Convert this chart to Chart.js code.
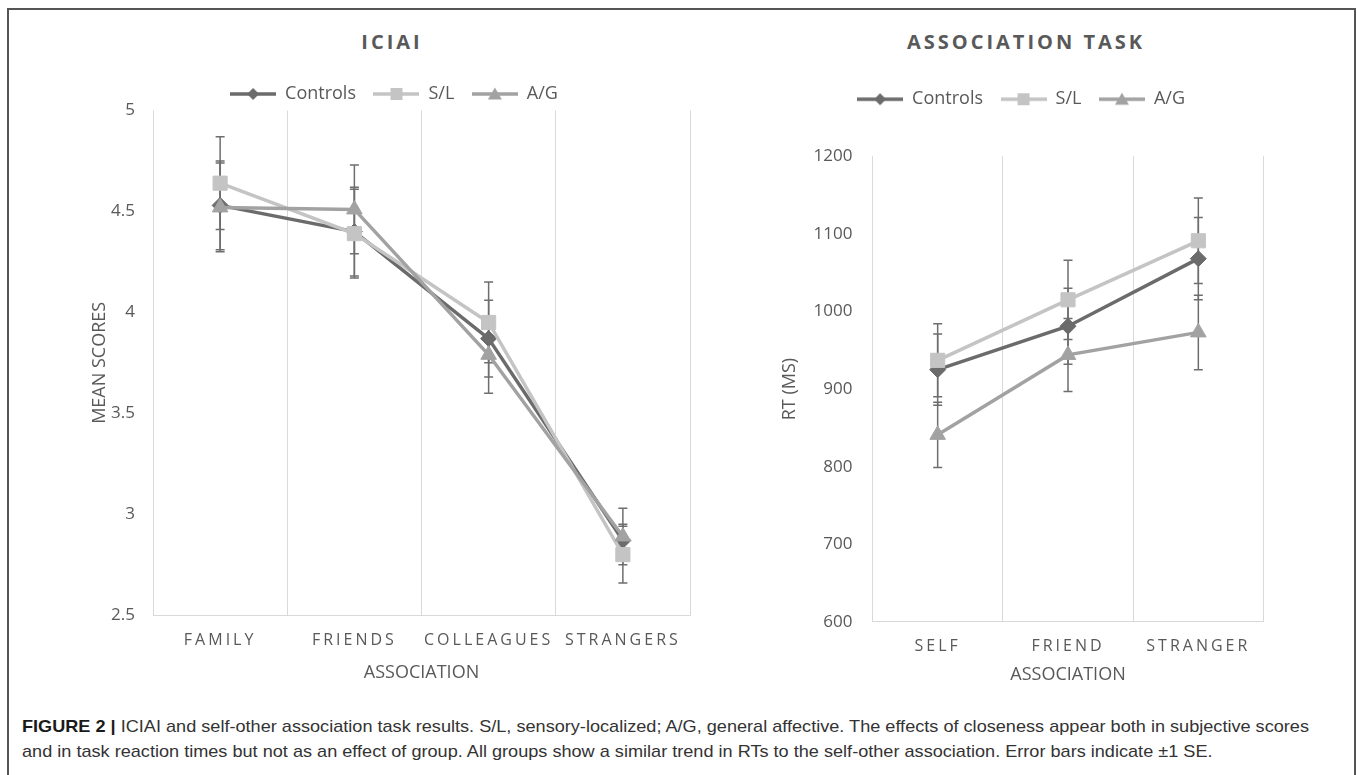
<!DOCTYPE html>
<html>
<head>
<meta charset="utf-8">
<script src="https://cdn.jsdelivr.net/npm/chart.js@4.4.1/dist/chart.umd.min.js"></script>
<style>
    body { margin: 0; background: #fff; width: 1357px; height: 775px; overflow: hidden; position: relative; }
    #frame { position: absolute; left: 7px; top: 8px; width: 1345px; height: 820px; border: 2px solid #555; }
    .chartTitle { position: absolute; top: 28px; width: 300px; text-align: center; font: bold 20px 'Open Sans', sans-serif; letter-spacing: 3px; color: #595959; white-space: nowrap; }
    canvas { position: absolute; }
    #caption { position: absolute; left: 22px; top: 714px; font-family: 'Liberation Sans Narrow', 'Liberation Sans', Arial, sans-serif; font-size: 17px; line-height: 25px; color: #333; white-space: nowrap; transform-origin: 0 0; }
    #caption b { color: #1a1a1a; }
</style>
</head>
<body>
<div id="frame"></div>
<div class="chartTitle" style="left:242px">ICIAI</div>
<div class="chartTitle" style="left:876px">ASSOCIATION TASK</div>
<canvas id="iciaiChart" width="720" height="640" style="left:20px;top:55px"></canvas>
<canvas id="taskChart" width="580" height="640" style="left:760px;top:55px"></canvas>
<div id="caption"><span id="capLine1"><b>FIGURE 2 |</b> ICIAI and self-other association task results. S/L, sensory-localized; A/G, general affective. The effects of closeness appear both in subjective scores</span><br><span>and in task reaction times but not as an effect of group. All groups show a similar trend in RTs to the self-other association. Error bars indicate ±1 SE.</span></div>

<script>
// ---- data : ICIAI ----
const groups = ['Controls', 'S/L', 'A/G'];
const associationLabels = ['FAMILY', 'FRIENDS', 'COLLEAGUES', 'STRANGERS'];
const controlsScores = [4.53, 4.40, 3.87, 2.87];
const slScores = [4.64, 4.39, 3.95, 2.80];
const agScores = [4.52, 4.51, 3.79, 2.89];
const controlsScoreSE = [0.22, 0.22, 0.19, 0.08];
const slScoreSE = [0.23, 0.22, 0.20, 0.14];
const agScoreSE = [0.22, 0.22, 0.19, 0.14];
const scoreTicks = [2.5, 3, 3.5, 4, 4.5, 5];
const scoreTickLabels = ['2.5', '3', '3.5', '4', '4.5', '5'];

// ---- data : association task (RT) ----
const taskLabels = ['SELF', 'FRIEND', 'STRANGER'];
const controlsRT = [925, 981, 1068];
const slRT = [937, 1015, 1091];
const agRT = [841, 944, 973];
const controlsRTSE = [46, 49, 53];
const slRTSE = [47, 51, 55];
const agRTSE = [42, 47, 48];
const rtTicks = [600, 700, 800, 900, 1000, 1100, 1200];
const rtTickLabels = ['600', '700', '800', '900', '1000', '1100', '1200'];

// ---- look ----
const seriesColors = ['#6b6b6b', '#c4c4c4', '#a2a2a2'];
const markerStyles = ['rectRot', 'rect', 'triangle'];
const markerRadius = [8, 10, 9];
const textColor = '#595959';

Chart.defaults.font.family = "'Open Sans', sans-serif";
Chart.defaults.color = textColor;
Chart.defaults.animation = false;

// category axis with spaced letters (Excel style)
class SpacedCategoryScale extends Chart.CategoryScale {
    drawLabels(area) {
        this.ctx.save();
        this.ctx.letterSpacing = '3px';
        super.drawLabels(area);
        this.ctx.restore();
    }
}
SpacedCategoryScale.id = 'spacedCategory';
SpacedCategoryScale.defaults = Chart.CategoryScale.defaults;
Chart.register(SpacedCategoryScale);

// legend icon: line with the marker in the middle
function legendIcon(color, style) {
    const c = document.createElement('canvas');
    c.width = 46; c.height = 16;
    const g = c.getContext('2d');
    g.strokeStyle = color; g.lineWidth = 3.5;
    g.beginPath(); g.moveTo(0, 8); g.lineTo(46, 8); g.stroke();
    g.fillStyle = color;
    g.beginPath();
    if (style === 'rectRot') { g.moveTo(23, 2); g.lineTo(29, 8); g.lineTo(23, 14); g.lineTo(17, 8); }
    else if (style === 'rect') { g.rect(17, 2, 12, 12); }
    else { g.moveTo(23, 1.5); g.lineTo(30, 13.5); g.lineTo(16, 13.5); }
    g.closePath(); g.fill();
    return c;
}
const legendIcons = seriesColors.map((c, i) => legendIcon(c, markerStyles[i]));

// error bars drawn under the series
const errorBars = {
    id: 'errorBars',
    beforeDatasetsDraw(chart, args, opts) {
        const ctx = chart.ctx;
        const y = chart.scales.y;
        ctx.save();
        ctx.strokeStyle = opts.color;
        ctx.lineWidth = opts.width;
        chart.data.datasets.forEach((ds, i) => {
            chart.getDatasetMeta(i).data.forEach((pt, j) => {
                const hi = y.getPixelForValue(ds.data[j] + ds.errors[j]);
                const lo = y.getPixelForValue(ds.data[j] - ds.errors[j]);
                ctx.beginPath();
                ctx.moveTo(pt.x, hi); ctx.lineTo(pt.x, lo);
                ctx.moveTo(pt.x - opts.cap, hi); ctx.lineTo(pt.x + opts.cap, hi);
                ctx.moveTo(pt.x - opts.cap, lo); ctx.lineTo(pt.x + opts.cap, lo);
                ctx.stroke();
            });
        });
        ctx.restore();
    }
};

// nudges the legend to where Excel put it
const legendShift = {
    id: 'legendShift',
    afterLayout(chart, args, opts) {
        const lg = chart.legend;
        if (!lg) return;
        lg.left += opts.dx; lg.right += opts.dx;
        lg.top += opts.dy; lg.bottom += opts.dy;
    }
};

function makeDatasets(valueLists, errorLists) {
    return valueLists.map((vals, i) => ({
        label: groups[i],
        data: vals,
        errors: errorLists[i],
        borderColor: seriesColors[i],
        backgroundColor: seriesColors[i],
        borderWidth: 3.5,
        tension: 0,
        pointStyle: markerStyles[i],
        pointRadius: markerRadius[i],
        pointBorderWidth: 1,
        pointBackgroundColor: seriesColors[i],
        pointBorderColor: seriesColors[i],
        order: 2 - i
    }));
}

function buildChart(id, labels, datasets, ticks, tickLabels, min, max, yTitle, lay) {
    return new Chart(document.getElementById(id), {
        type: 'line',
        data: { labels: labels, datasets: datasets },
        plugins: [errorBars, legendShift],
        options: {
            responsive: false,
            devicePixelRatio: 1,
            events: [],
            layout: { padding: { left: lay.padL, right: lay.padR, top: lay.padT, bottom: lay.padB } },
            plugins: {
                tooltip: { enabled: false },
                legend: {
                    position: 'top',
                    labels: {
                        usePointStyle: true,
                        pointStyleWidth: 46,
                        boxHeight: 16,
                        padding: 17.5,
                        color: textColor,
                        font: { size: 18 },
                        sort: (a, b) => a.datasetIndex - b.datasetIndex,
                        generateLabels(chart) {
                            const items = Chart.defaults.plugins.legend.labels.generateLabels(chart);
                            items.forEach(it => { it.pointStyle = legendIcons[it.datasetIndex]; });
                            return items;
                        }
                    }
                },
                errorBars: { color: '#6e6e6e', width: 1.5, cap: 4.5 },
                legendShift: { dx: lay.dx, dy: lay.dy }
            },
            scales: {
                x: {
                    type: 'spacedCategory',
                    offset: true,
                    grid: { display: true, offset: true, color: '#d9d9d9', lineWidth: 1, drawTicks: false },
                    border: { display: true, color: '#d9d9d9', width: 1 },
                    ticks: { color: textColor, font: { size: 16 }, padding: lay.xPad, maxRotation: 0, autoSkip: false },
                    title: { display: true, text: 'ASSOCIATION', color: textColor, font: { size: 18 }, padding: { top: 0, bottom: 4 } },
                    afterFit(scale) { scale.height = lay.xHeight; }
                },
                y: {
                    min: min,
                    max: max,
                    grid: { display: false, drawTicks: false },
                    border: { display: false },
                    afterBuildTicks(scale) { scale.ticks = ticks.map(v => ({ value: v })); },
                    ticks: {
                        color: textColor,
                        font: { size: 17 },
                        padding: lay.yPad,
                        callback: (v, i) => tickLabels[i]
                    },
                    title: { display: true, text: yTitle, color: textColor, font: { size: 18 }, padding: { top: 4, bottom: 4 } },
                    afterFit(scale) { scale.width = lay.yWidth; }
                }
            }
        }
    });
}

buildChart('iciaiChart', associationLabels,
    makeDatasets([controlsScores, slScores, agScores], [controlsScoreSE, slScoreSE, agScoreSE]),
    scoreTicks, scoreTickLabels, 2.5, 5, 'MEAN SCORES',
    { padL: 65.2, padR: 50, padT: 10, padB: 7, yWidth: 67.8, yPad: 18, xPad: 16, xHeight: 72.8, dx: 6.4, dy: 2.5 });

buildChart('taskChart', taskLabels,
    makeDatasets([controlsRT, slRT, agRT], [controlsRTSE, slRTSE, agRTSE]),
    rtTicks, rtTickLabels, 600, 1200, 'RT (MS)',
    { padL: 15.2, padR: 76.5, padT: 55.7, padB: 5, yWidth: 97.3, yPad: 20, xPad: 15.4, xHeight: 68.1, dx: 1.7, dy: -38 });

// stretch caption so the first line spans like the original
const capW = document.getElementById('capLine1').getBoundingClientRect().width;
document.getElementById('caption').style.transform = 'scaleX(' + (1287 / capW) + ')';
</script>
</body>
</html>
